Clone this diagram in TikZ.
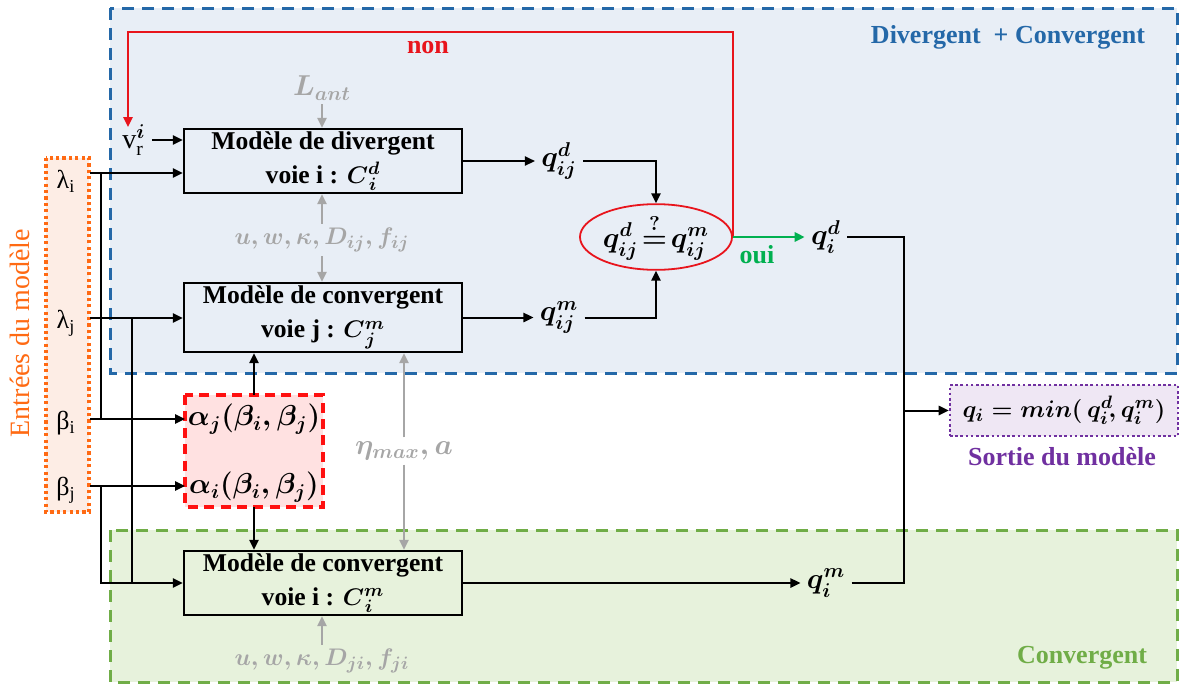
\documentclass[tikz,border=0pt]{standalone}
\usepackage{amsmath}
\usepackage{fontspec}
\setmainfont{Liberation Serif}
\usetikzlibrary{arrows.meta,shapes.geometric,calc}
\definecolor{cblue}{HTML}{2468A8}
\definecolor{cbluefill}{HTML}{E8EEF6}
\definecolor{cgreen}{HTML}{70AD47}
\definecolor{cgreenfill}{HTML}{E7F2DC}
\definecolor{corange}{HTML}{FF6A13}
\definecolor{corangefill}{HTML}{FDEDE5}
\definecolor{cred}{HTML}{FF1010}
\definecolor{credfill}{HTML}{FFE1E1}
\definecolor{cpurple}{HTML}{7030A0}
\definecolor{cpurplefill}{HTML}{EFE7F4}
\definecolor{cgray}{HTML}{A6A6A6}
\definecolor{cline}{HTML}{E8141C}
\definecolor{coui}{HTML}{00B050}
\begin{document}
\begin{tikzpicture}[x=0.5pt,y=-0.5pt,
  tip/.tip={Triangle[length=5pt,width=4.6pt]},
  ln/.style={line width=1pt, draw=black},
  arr/.style={ln, -tip},
  garr/.style={line width=1pt, draw=cgray, -tip},
  model/.style={draw=black, line width=1.2pt, minimum width=139pt, align=center,
    inner sep=0pt, font=\fontsize{12.8}{17}\selectfont\bfseries\boldmath},
  mlab/.style={font=\fontsize{14}{16}\selectfont\boldmath, inner sep=3pt},
  glab/.style={font=\fontsize{14}{16}\selectfont\boldmath, text=cgray, inner sep=2pt},
  gk/.style={font=\fontsize{13}{16}\selectfont, inner sep=2pt},
  zlab/.style={font=\fontsize{13}{16}\selectfont\bfseries, inner sep=0pt},
  zone/.style={line width=1.5pt, dash pattern=on 6pt off 4pt}
]
\path[use as bounding box] (0,0) rectangle (1180,686);

% zones
\draw[zone, draw=cblue, fill=cbluefill] (110,8) rectangle (1177,373);
\draw[zone, draw=cgreen, fill=cgreenfill] (110,530) rectangle (1177,682);
\draw[line width=2pt, dash pattern=on 1.6pt off 1.6pt, draw=corange, fill=corangefill] (46,158) rectangle (89,512);
\draw[line width=1.6pt, dash pattern=on 5pt off 3.2pt, draw=cred, fill=credfill] (185,395) rectangle (323,507);

\node[zlab, text=cblue] (tdc) at (1008,37) {Divergent \ + Convergent};
\node[zlab, text=cgreen] (tconv) at (1082,658) {Convergent};
\node[font=\fontsize{14}{16}\selectfont, text=corange, rotate=90, inner sep=0pt] (tin) at (20,333) {Entrées du modèle};

% model boxes
\node[model, minimum height=32pt] (div) at (323,161) {Modèle de divergent\\voie i : $C_{\kern1.2pt i}^{d}$};
\node[model, minimum height=34.5pt] (convj) at (323,317.5) {Modèle de convergent\\voie j : $C_{\kern1.2pt j}^{m}$};
\node[model, minimum height=32pt] (convi) at (323,583) {Modèle de convergent\\voie i : $C_{\kern1.2pt i}^{m}$};

% inputs
\node[gk] (li) at (66,181) {λ\textsubscript{i}};
\node[gk] (lj) at (66,323) {λ\textsubscript{j}};
\node[gk] (bi) at (66,423) {β\textsubscript{i}};
\node[gk] (bj) at (66,490) {β\textsubscript{j}};
\node[font=\fontsize{14}{16}\selectfont, inner sep=1pt] (vr) at (134,140) {v$_{\mathrm{r}}^{\boldsymbol{i}}$};

% alpha block
\node[mlab] (aj) at (254,419) {$\alpha_j(\beta_i,\beta_j)$};
\node[mlab] (ai) at (254,487) {$\alpha_i(\beta_i,\beta_j)$};
\coordinate (alphatop) at (254,395);
\coordinate (alphabot) at (254,507);

% gray parameter labels
\node[glab] (lant) at (322,88) {$L_{ant}$};
\node[glab, font=\fontsize{13}{16}\selectfont\boldmath] (p1) at (322,240) {$u, w, \kappa, D_{ij}, f_{ij}$};
\node[glab] (eta) at (404,451) {$\eta_{max}, a$};
\node[glab, font=\fontsize{13}{16}\selectfont\boldmath] (p2) at (322,661) {$u, w, \kappa, D_{ji}, f_{ji}$};

% outputs
\node[mlab] (qd) at (559,161) {$q_{ij}^{d}$};
\node[mlab] (qm) at (559,317.5) {$q_{ij}^{m}$};
\node[draw=cline, line width=0.9pt, ellipse, minimum width=76pt, minimum height=23.5pt, inner sep=0pt,
  font=\fontsize{14}{16}\selectfont\boldmath] (ell) at (656,237) {$q_{ij}^{d}\!\overset{?}{=}\!q_{ij}^{m}$};
\node[mlab] (qid) at (826,237) {$q_i^{d}$};
\node[mlab] (qim) at (826,583) {$q_i^{m}$};
\node[draw=cpurple, fill=cpurplefill, line width=1.3pt, dash pattern=on 1.3pt off 1.3pt,
  minimum width=114pt, minimum height=25.5pt, inner sep=0pt,
  font=\fontsize{13}{16}\selectfont\boldmath] (out) at (1064,410.5) {$q_i = min(\,q_i^{d}\!, q_i^{m})$};
\node[zlab, text=cpurple] (tout) at (1062,457) {Sortie du modèle};
\node[zlab, text=cline] (tnon) at (428,47) {non};
\node[zlab, text=coui] (toui) at (757,255) {oui};

% coordinates
\coordinate (li0) at (90,173);
\coordinate (lj0) at (90,318);
\coordinate (bi0) at (90,419);
\coordinate (bj0) at (90,486);
\coordinate (ka) at (101,173);
\coordinate (kb) at (101,419);
\coordinate (kc) at (101,486);
\coordinate (kd) at (132,318);
\coordinate (ke) at (132,583);
\coordinate (jx) at (904,410.5);
\coordinate (rtop) at (128,32);
\coordinate (rend) at (128,127);

% input connectors
\draw[arr] (li0) -- (div.west |- li0);
\draw[ln] (ka) -- (kb);
\draw[arr] (lj0) -- (convj.west |- lj0);
\draw[ln] (kd) -- (ke);
\draw[arr] (bi0) -- (185,419);
\draw[arr] (bj0) -- (185,486);
\draw[arr] (kc) |- (convi.west);
\draw[arr] (vr.east) ++(4,0) -- (div.west |- vr.east);

% alpha connectors
\draw[arr] (alphatop) -- (alphatop |- convj.south);
\draw[arr] (alphabot) -- (alphabot |- convi.north);

% gray connectors
\draw[garr] (lant.south) -- (div.north -| lant.south);
\draw[garr] (p1.north) -- (div.south -| p1.north);
\draw[garr] (p1.south) -- (convj.north -| p1.south);
\draw[garr] (eta.north) -- (eta.north |- convj.south);
\draw[garr] (eta.south) -- (eta.south |- convi.north);
\draw[garr] (p2.north) -- (convi.south -| p2.north);

% output connectors
\draw[arr] (div.east) -- (qd.west);
\draw[arr] (qd.east) -| (ell.north);
\draw[arr] (convj.east) -- (qm.west);
\draw[arr] (qm.east) -| (ell.south);
\draw[line width=1.1pt, draw=cline, -tip] (ell.east) |- (rtop) -- (rend);
\draw[line width=1.1pt, draw=coui, -tip] (ell.east) -- (qid.west);
\draw[arr] (convi.east) -- (qim.west);
\draw[ln] (qid.east) -| (jx);
\draw[ln] (qim.east) -| (jx);
\draw[arr] (jx) -- (out.west);
\end{tikzpicture}
\end{document}
